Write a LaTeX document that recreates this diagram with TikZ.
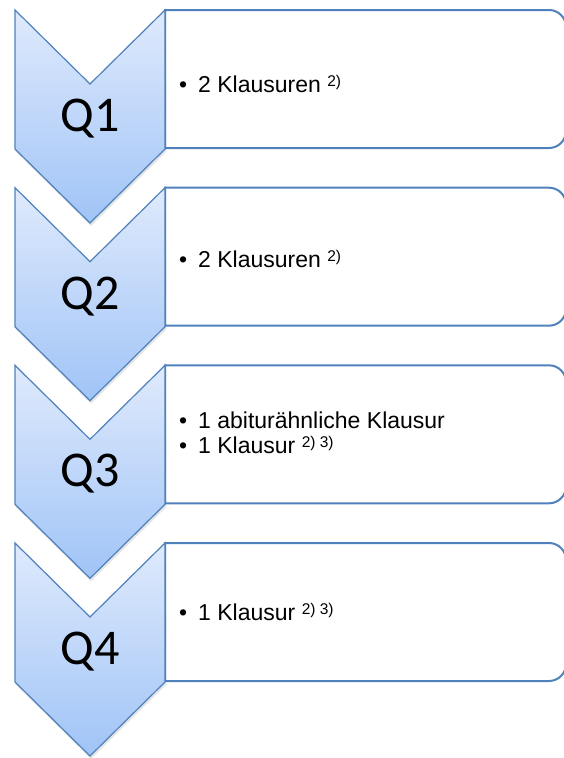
\documentclass[tikz,border=0pt]{standalone}
\usepackage{fontspec}
\setmainfont{Liberation Sans}
\newfontfamily\qfont{Carlito}
\definecolor{accline}{RGB}{79,129,189}
\definecolor{chevtop}{RGB}{223,234,252}
\definecolor{chevbot}{RGB}{160,196,247}
\newcommand\supnote[1]{\raisebox{5.4pt}{\fontsize{15.5}{15.5}\selectfont #1}}
\newcommand\bul{\makebox[19pt][l]{•}}
\begin{document}
\begin{tikzpicture}[x=1pt,y=-1pt,
  chev/.style={draw=accline, line width=1.2pt, top color=chevtop, bottom color=chevbot, line join=miter},
  chevshadow/.style={fill=black, opacity=0.10},
  itembox/.style={draw=accline, line width=2pt, fill=white},
  qlabel/.style={font=\qfont\fontsize{50}{50}\selectfont, anchor=base, inner sep=0pt},
  itemtext/.style={font=\fontsize{23}{25}\selectfont, anchor=base west, inner sep=0pt}]
\useasboundingbox (0,0) rectangle (564,758);
\begin{scope}
\clip (0,0) rectangle (564,758);
\foreach \t/\n in {10/1,187.7/2,365.3/3,543/4}{
  \draw[itembox] (165,\t) -- (549,\t) arc[start angle=90,end angle=0,radius=17pt]
     -- (566,\t+121) arc[start angle=0,end angle=-90,radius=17pt] -- (165,\t+138) -- cycle;
  \fill[chevshadow] (16,\t+2.5) -- (91,\t+76.5) -- (166,\t+2.5) -- (166.5,\t+141.5) -- (91,\t+216) -- (15.5,\t+141.5) -- cycle;
  \path[chev] (15,\t) -- (90,\t+74) -- (165,\t) -- (165,\t+139) -- (90,\t+213) -- (15,\t+139) -- cycle;
  \node[qlabel] (q\n) at (90,\t+121.5) {Q\n};
}
\end{scope}
\node[itemtext] (t1) at (179,92) {\bul 2 Klausuren \supnote{2)}};
\node[itemtext] (t2) at (179,267) {\bul 2 Klausuren \supnote{2)}};
\node[itemtext] (t3a) at (179,428) {\bul 1 abiturähnliche Klausur};
\node[itemtext] (t3b) at (179,453) {\bul 1 Klausur \supnote{2) 3)}};
\node[itemtext] (t4) at (179,620) {\bul 1 Klausur \supnote{2) 3)}};
\end{tikzpicture}
\end{document}
